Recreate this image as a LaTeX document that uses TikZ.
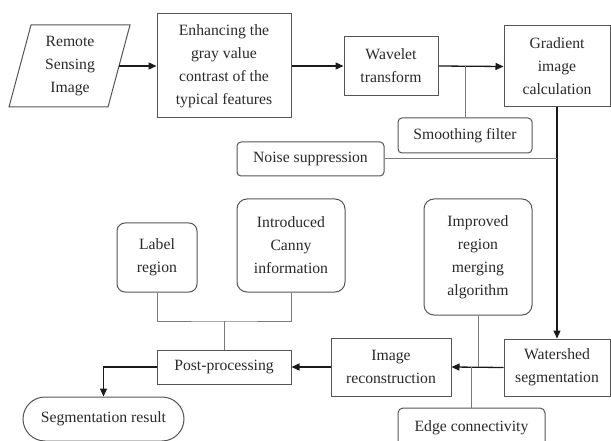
\documentclass[tikz,border=0pt]{standalone}
\usepackage{fontspec}
\setmainfont{Liberation Serif}
\usetikzlibrary{arrows.meta}
\definecolor{boxline}{HTML}{555555}
\definecolor{txt}{HTML}{2A2A2A}
\definecolor{branch}{HTML}{7A7A7A}
\definecolor{mainc}{HTML}{1A1A1A}
\tikzset{
  tfont/.style={font=\fontsize{15.7}{23}\selectfont},
  base/.style={draw=boxline, line width=1pt, inner sep=0pt, align=center, text=txt, tfont},
  rbox/.style={base, rectangle},
  rnd/.style={base, rectangle, rounded corners=#1},
  rnd/.default=5pt,
  flow/.style={draw=mainc, line width=1.3pt, -{Triangle[length=8pt,width=7pt]}},
  link/.style={draw=branch, line width=1pt}
}
\begin{document}
\begin{tikzpicture}[x=1pt,y=-1pt]
\clip (0,0) rectangle (611,441);
\fill[white] (0,0) rectangle (611,441);
% parallelogram
\draw[draw=boxline, line width=1pt] (31,25) -- (130,25) -- (108,107) -- (9,107) -- cycle;
\node[text=txt, align=center, tfont] (rsi) at (70,66) {Remote\\Sensing\\Image};
\coordinate (rsiR) at (119,66);

\node[rbox, minimum width=134pt, minimum height=104pt] (enh) at (224,66) {Enhancing the\\gray value\\contrast of the\\typical features};
\node[rbox, minimum width=94pt, minimum height=59pt] (wav) at (391,66) {Wavelet\\transform};
\node[rbox, minimum width=106pt, minimum height=81pt] (grad) at (557,66.5) {Gradient\\image\\calculation};
\node[rnd=4pt, minimum width=134pt, minimum height=35pt] (smooth) at (465,135.5) {Smoothing filter};
\node[rnd=4pt, minimum width=147pt, minimum height=34pt] (noise) at (310.5,159) {Noise suppression};
\node[rbox, minimum width=106pt, minimum height=57pt] (water) at (557,367.5) {Watershed\\segmentation};
\node[rbox, minimum width=120pt, minimum height=58pt] (recon) at (391,367) {Image\\reconstruction};
\node[rnd=10pt, minimum width=108pt, minimum height=116pt] (impr) at (478,257) {Improved\\region\\merging\\algorithm};
\node[rnd=5pt, minimum width=147pt, minimum height=40pt] (edge) at (471.5,428) {Edge connectivity};
\node[rnd=10pt, minimum width=108pt, minimum height=93pt] (canny) at (291,245.5) {Introduced\\Canny\\information};
\node[rnd=8pt, minimum width=80pt, minimum height=69pt] (label) at (157,257.5) {Label\\region};
\node[rbox, minimum width=134pt, minimum height=34pt] (post) at (224,367) {Post-processing};
\node[rnd=22pt, minimum width=161pt, minimum height=44pt] (seg) at (103.5,419) {Segmentation result};

% main flow
\draw[flow] (rsiR) -- (enh.west);
\draw[flow] (enh.east) -- (wav.west);
\draw[flow] (wav.east) -- (grad.west);
\draw[flow] (grad.south) -- (water.north);
\draw[flow] (water.west) -- (recon.east);
\draw[flow] (recon.west) -- (post.east);
\draw[flow] (post.west) -| (seg.north);

% branches
\draw[link] (smooth.north) -- (smooth.north |- wav.east);
\draw[link] (noise.east) -- (grad.south |- noise.east);
\draw[link] (impr.south) -- (impr.south |- recon.east);
\draw[link] (edge.north) -- (edge.north |- recon.east);
\coordinate (j) at (224,321);
\draw[link] (label.south) |- (j) -| (canny.south);
\draw[link] (j) -- (post.north);
\end{tikzpicture}
\end{document}
